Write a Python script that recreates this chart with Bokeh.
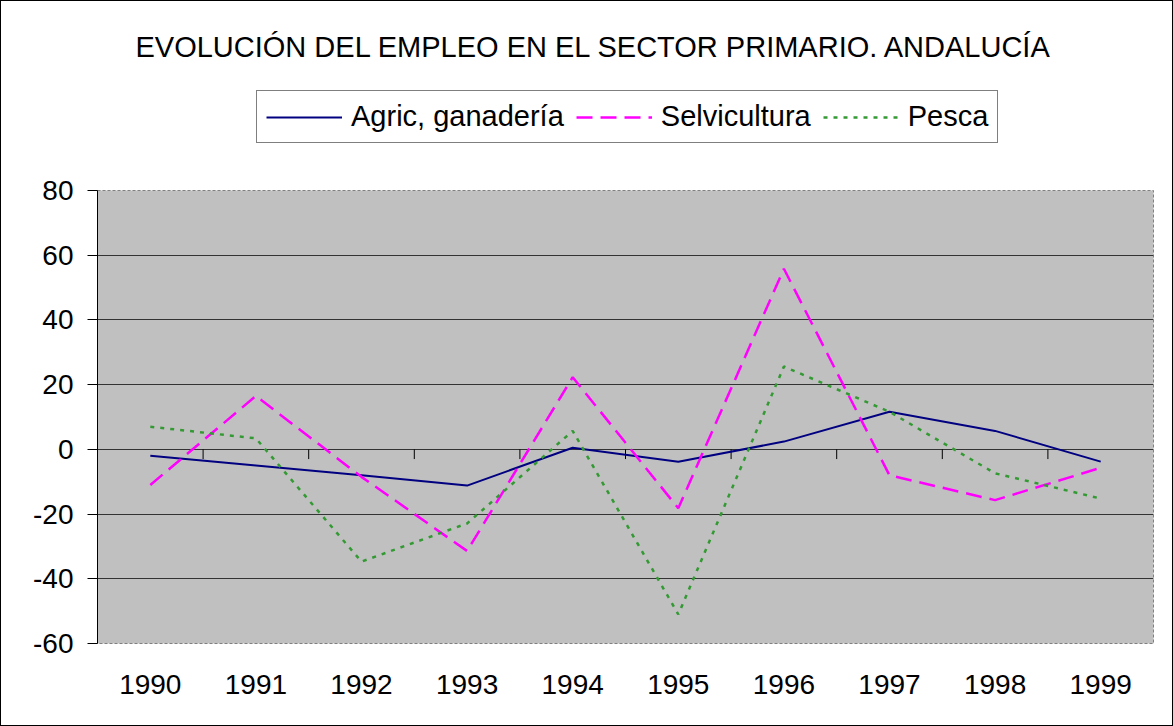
from bokeh.plotting import figure
from bokeh.models import Range1d, FixedTicker, Legend, LegendItem, Label
from bokeh.layouts import column
from bokeh.embed import file_html
from bokeh.resources import INLINE

years = ["1990", "1991", "1992", "1993", "1994", "1995", "1996", "1997", "1998", "1999"]
agric = [-2.0, -5.0, -8.0, -11.2, 0.5, -3.8, 2.4, 11.6, 5.7, -3.8]
selv = [-11.0, 16.5, -8.5, -31.4, 22.3, -18.2, 55.8, -8.0, -15.7, -5.7]
pesca = [7.0, 3.4, -34.7, -22.9, 5.7, -51.0, 25.6, 11.6, -7.4, -15.2]
y_ticks = [-60, -40, -20, 0, 20, 40, 60, 80]
series_names = ["Agric, ganadería", "Selvicultura", "Pesca"]
title_text = "EVOLUCIÓN DEL EMPLEO EN EL SECTOR PRIMARIO. ANDALUCÍA"

FONT = "Liberation Sans"
W = 1171
styles = [dict(line_color="#000080", line_width=2),
          dict(line_color="#FF00FF", line_width=2.5, line_dash="16 8"),
          dict(line_color="#339933", line_width=2.5, line_dash="4 6")]

# ---------- header: title + legend ----------
top = figure(width=W, height=173, output_backend="svg", toolbar_location=None,
             x_range=Range1d(0, 1), y_range=Range1d(0, 1),
             x_axis_type=None, y_axis_type=None,
             min_border_left=0, min_border_right=0, min_border_top=0, min_border_bottom=0)
top.grid.visible = False
top.outline_line_color = None
top.background_fill_color = "white"
top.border_fill_color = "white"

top.add_layout(Label(x=497, y=128, x_units="screen", y_units="screen", text=title_text,
                     text_font=FONT, text_font_size="29px", text_color="black",
                     text_align="center", text_baseline="middle"))

# legend proxies (kept outside the visible header range, only their styles are used)
proxies = [top.line(x=[-3, -2], y=[-3, -3], **st) for st in styles]
legend = Legend(items=[LegendItem(label=n, renderers=[r]) for n, r in zip(series_names, proxies)],
                orientation="horizontal", location=(159, 31))
legend.label_text_font = FONT
legend.label_text_font_size = "29px"
legend.label_text_color = "black"
legend.glyph_width = 76
legend.glyph_height = 20
legend.label_height = 33
legend.label_standoff = 9
legend.spacing = 12
legend.padding = 9
legend.margin = 0
legend.border_line_color = "black"
legend.border_line_width = 1
legend.background_fill_color = "white"
legend.background_fill_alpha = 1
top.add_layout(legend, "center")

# ---------- main chart ----------
xs = [i + 0.5 for i in range(len(years))]
p = figure(width=W, height=551, output_backend="svg", toolbar_location=None,
           x_range=Range1d(0, len(years)), y_range=Range1d(-60, 80),
           min_border_left=96, min_border_right=19, min_border_bottom=82, min_border_top=16)

p.border_fill_color = "white"
p.background_fill_color = "#C0C0C0"
p.outline_line_color = "#808080"
p.outline_line_dash = "3 2"
p.outline_line_width = 1

p.yaxis.ticker = FixedTicker(ticks=y_ticks)
p.yaxis.major_label_overrides = {t: str(t) for t in y_ticks}
p.yaxis.major_label_text_font = FONT
p.yaxis.major_label_text_font_size = "28px"
p.yaxis.major_label_text_color = "black"
p.yaxis.major_tick_out = 10
p.yaxis.major_tick_in = 0
p.yaxis.minor_tick_line_color = None
p.yaxis.axis_line_color = "black"
p.yaxis.major_tick_line_color = "black"
p.yaxis.major_label_standoff = 14

p.xaxis.ticker = FixedTicker(ticks=xs)
p.xaxis.major_label_overrides = {x: y for x, y in zip(xs, years)}
p.xaxis.major_label_text_font = FONT
p.xaxis.major_label_text_font_size = "28px"
p.xaxis.major_label_text_color = "black"
p.xaxis.major_tick_line_color = None
p.xaxis.minor_tick_line_color = None
p.xaxis.axis_line_color = None
p.xaxis.major_label_standoff = 25

p.xgrid.grid_line_color = None
p.ygrid.grid_line_color = "#333333"
p.ygrid.grid_line_width = 1
p.ygrid.ticker = FixedTicker(ticks=y_ticks)

# category separator ticks on the zero line
sep = list(range(1, len(years)))
p.segment(x0=sep, y0=[0] * len(sep), x1=sep, y1=[-3] * len(sep), line_color="black", line_width=1)

for vals, st in zip([agric, selv, pesca], styles):
    p.line(xs, vals, **st)

layout = column(top, p, spacing=0)
layout.styles = {"border": "1px solid black"}

open("out.html", "w").write(file_html(layout, INLINE))
